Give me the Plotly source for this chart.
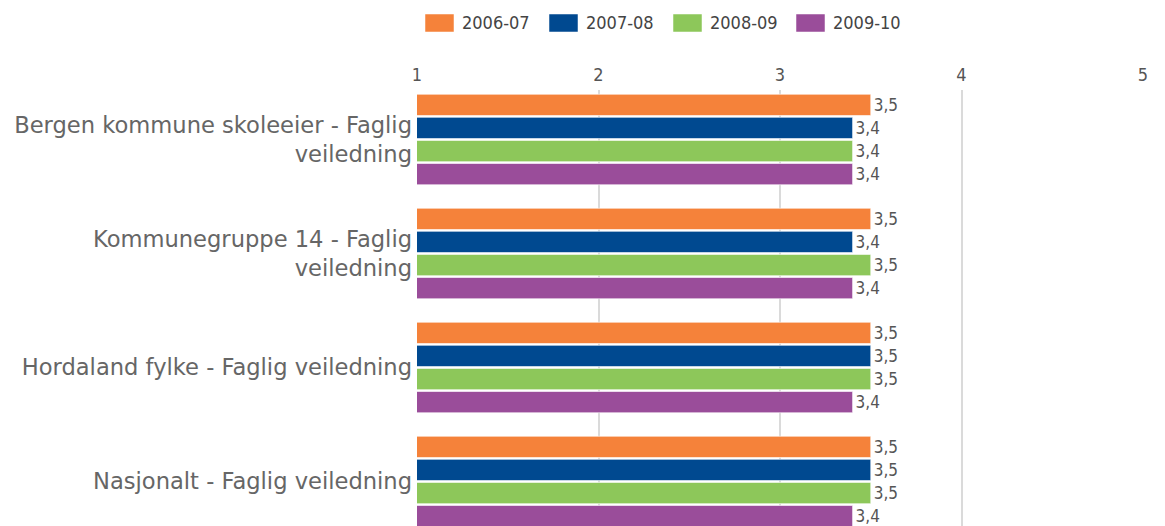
import plotly.graph_objects as go

categories = [
    "Bergen kommune skoleeier - Faglig<br>veiledning",
    "Kommunegruppe 14 - Faglig<br>veiledning",
    "Hordaland fylke - Faglig veiledning",
    "Nasjonalt - Faglig veiledning",
]
series_names = ["2006-07", "2007-08", "2008-09", "2009-10"]
v_2006_07 = [3.5, 3.5, 3.5, 3.5]
v_2007_08 = [3.4, 3.4, 3.5, 3.5]
v_2008_09 = [3.4, 3.5, 3.5, 3.5]
v_2009_10 = [3.4, 3.4, 3.4, 3.4]
colors = ["#F5823A", "#004990", "#8DC75A", "#9A4D9A"]
x_ticks = [1, 2, 3, 4, 5]

series_values = [v_2006_07, v_2007_08, v_2008_09, v_2009_10]

# the page body has an 8px default margin; lay the figure out in page pixels minus that
OFF = 8
W, H = 1165 - OFF, 526 - OFF
L, R, T, B = 417 - OFF, 22, 90 - OFF, 0
pw, ph = W - L - R, H - T - B


def px_x(p):
    return (p - OFF - L) / pw


def px_y(p):
    return (H - (p - OFF)) / ph


fig = go.Figure()
for name, vals, col in zip(series_names, series_values, colors):
    fig.add_trace(go.Bar(
        name=name, y=categories, x=vals, orientation="h", base=0,
        marker=dict(color=col, line=dict(color="rgba(255,255,255,0.6)", width=1)),
        texttemplate="%{x:.1f}", textposition="outside", cliponaxis=False,
        textfont=dict(family="DejaVu Sans Condensed, DejaVu Sans", size=17, color="#555555"),
        showlegend=False,
    ))

# custom legend (wide rectangles like the reference)
leg_rect_x = [425, 549, 673, 796]
for name, col, px in zip(series_names, colors, leg_rect_x):
    fig.add_shape(type="rect", xref="paper", yref="paper",
                  x0=px_x(px), x1=px_x(px + 29),
                  y0=px_y(32), y1=px_y(14),
                  fillcolor=col, line=dict(color="rgba(255,255,255,0.5)", width=1))
    fig.add_annotation(xref="paper", yref="paper", x=px_x(px + 35), y=px_y(23),
                       text=name, showarrow=False, xanchor="left", yanchor="middle",
                       font=dict(family="DejaVu Sans Condensed, DejaVu Sans", size=18, color="#444444"))

cat_pitch = 114
top_val = -0.5 + (90 - 82.5) / cat_pitch
bot_val = top_val + ph / cat_pitch

fig.update_layout(
    width=W, height=H,
    margin=dict(l=L, r=R, t=T, b=B, pad=0, autoexpand=False),
    paper_bgcolor="white", plot_bgcolor="white",
    barmode="group", bargap=0.19, bargroupgap=0.08,
    separators=", ",
    xaxis=dict(side="top", range=[1, 5], tickvals=x_ticks, ticktext=[str(t) for t in x_ticks],
               showgrid=True, gridcolor="#DADADA", gridwidth=2, zeroline=False,
               showline=False, ticks="", ticklabelstandoff=4, automargin=False,
               tickfont=dict(family="DejaVu Sans Condensed, DejaVu Sans", size=18, color="#555555")),
    yaxis=dict(type="category", range=[bot_val, top_val], showgrid=False, zeroline=False,
               showline=False, ticks="", ticklabelstandoff=4, automargin=False,
               tickfont=dict(family="DejaVu Sans", size=22.6, color="#666666")),
)

fig.write_html("out.html")
